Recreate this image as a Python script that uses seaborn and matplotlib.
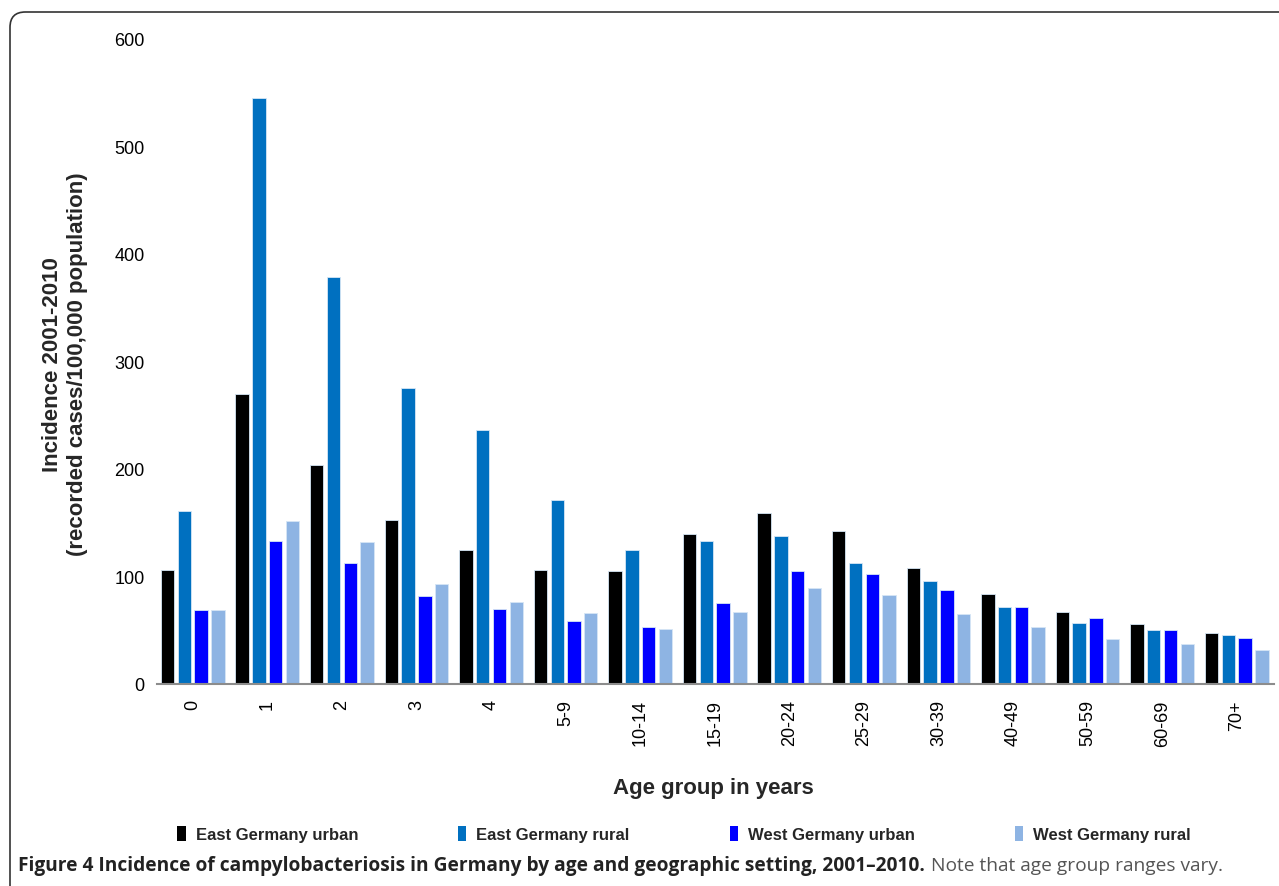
import numpy as np
import pandas as pd
import matplotlib
matplotlib.use("Agg")
import matplotlib.pyplot as plt
import seaborn as sns
from matplotlib.patches import Patch, FancyBboxPatch

# values (incidence per 100,000)
age_groups = ['0', '1', '2', '3', '4', '5-9', '10-14', '15-19', '20-24',
              '25-29', '30-39', '40-49', '50-59', '60-69', '70+']
east_urban = [106, 270, 204, 153, 125, 106, 105, 140, 159, 142, 108, 84, 67, 56, 47]
east_rural = [161, 545, 379, 275, 236, 171, 125, 133, 138, 113, 96, 72, 57, 50, 46]
west_urban = [69, 133, 113, 82, 70, 59, 53, 75, 105, 102, 87, 72, 61, 50, 43]
west_rural = [69, 152, 132, 93, 76, 66, 51, 67, 89, 83, 65, 53, 42, 37, 32]

settings = ['East Germany urban', 'East Germany rural',
            'West Germany urban', 'West Germany rural']
colors = ['#000000', '#0070C0', '#0000FF', '#8EB4E3']

df = pd.DataFrame({
    'Age': age_groups * 4,
    'Setting': np.repeat(settings, len(age_groups)),
    'Incidence': east_urban + east_rural + west_urban + west_rural,
})

sns.set_style("white")
plt.rcParams['font.family'] = ['Liberation Sans', 'DejaVu Sans']

fig = plt.figure(figsize=(12.79, 8.87), dpi=100)
ax = fig.add_axes([157/1279, 1-685/887, (1274-157)/1279, 645/887])

sns.barplot(data=df, x='Age', y='Incidence', hue='Setting', order=age_groups,
            hue_order=settings, palette=colors, saturation=1, width=0.9,
            gap=0.2, edgecolor='#d6e6f5', linewidth=0.6, errorbar=None,
            ax=ax, legend=False)

ax.set_ylim(0, 600)
ax.set_xlim(-0.48, 14.5)
ax.set_yticks(range(0, 601, 100))
ax.tick_params(axis='both', length=0, labelsize=13, colors='black', pad=9)
ax.tick_params(axis='x', labelrotation=90, pad=11)
for s in ['top', 'right', 'left']:
    ax.spines[s].set_visible(False)
ax.spines['bottom'].set_color('#8c8c8c')
ax.spines['bottom'].set_linewidth(1.5)

ax.set_ylabel('Incidence 2001-2010\n(recorded cases/100,000 population)',
              fontsize=16, fontweight='bold', linespacing=1.25)
ax.yaxis.set_label_coords((88-157)/1117, 0.497)
ax.set_xlabel('Age group in years', fontsize=16, fontweight='bold')
ax.xaxis.set_label_coords(0.498, (685-778)/645)

handles = [Patch(facecolor=c, edgecolor='none') for c in colors]
fig.legend(handles, settings, loc='center', bbox_to_anchor=(684/1279, 1-835/887),
           ncol=4, frameon=False, prop={'weight': 'bold', 'size': 12},
           handlelength=0.5, handleheight=1.0, handletextpad=0.6,
           columnspacing=6.0)

# caption below the figure
cap1 = fig.text(18/1279, 1-866/887,
                'Figure 4 Incidence of campylobacteriosis in Germany by age and geographic setting, 2001\u20132010.',
                fontsize=13.8, fontweight='bold', family='Open Sans',
                va='center', ha='left', color='#222222')
fig.canvas.draw()
bb = cap1.get_window_extent()
fig.text(bb.x1/1279 + 6/1279, 1-866/887, 'Note that age group ranges vary.',
         fontsize=13.8, family='Open Sans', va='center', ha='left',
         color='#555555')

# rounded frame around the figure (cut off at right and bottom)
frame = FancyBboxPatch((10/1279, -0.05), 1.2, 1.05-13/887,
                       boxstyle='round,pad=0,rounding_size=0.012',
                       mutation_aspect=1279/887, transform=fig.transFigure,
                       facecolor='none', edgecolor='#333333', linewidth=1.2)
fig.patches.append(frame)

fig.savefig('out.png', dpi=100)
